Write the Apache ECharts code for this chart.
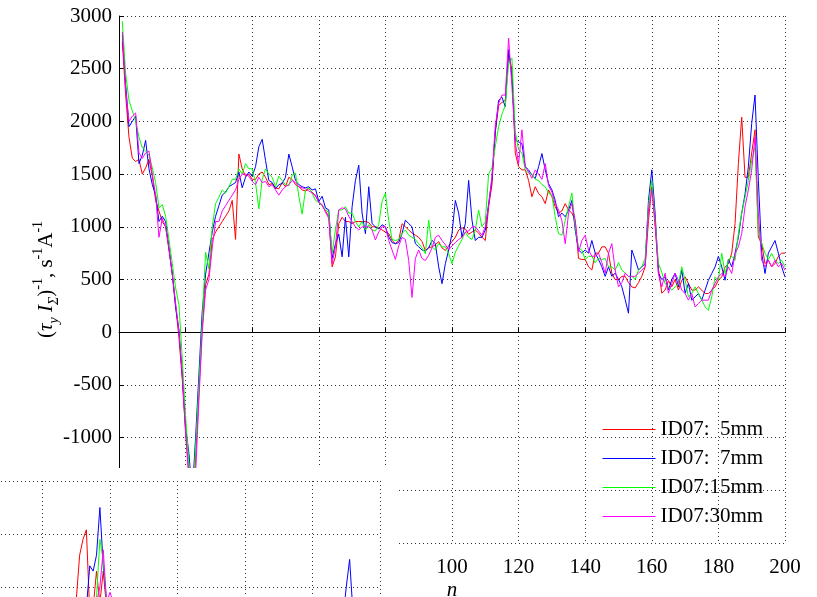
<!DOCTYPE html>
<html>
<head>
<meta charset="utf-8">
<title>ID07 response vs n</title>
<script src="https://cdn.jsdelivr.net/npm/echarts@6/dist/echarts.min.js"></script>
<style>
  html, body { margin: 0; padding: 0; background: #fff; }
  #chart { width: 817px; height: 597px; }
</style>
</head>
<body>
<div id="chart"></div>
<script>
// Sample index n = 1..200
const nValues = Array.from({ length: 200 }, (_, i) => i + 1);

// (tau_y I_Sigma)^-1 for each probe distance
const id07_5mm = [
  2750, 2250, 1850, 1650, 1620, 1640, 1500, 1560, 1640, 1480,
  1250, 1150, 1050, 1000, 780, 560, 250, -50, -450, -950,
  -1350, -1650, -1200, -550, 50, 450, 550, 880, 950, 1000,
  1050, 1100, 1150, 1250, 880, 1690, 1550, 1480, 1500, 1450,
  1450, 1500, 1520, 1470, 1400, 1410, 1370, 1360, 1420, 1380,
  1470, 1450, 1400, 1380, 1350, 1340, 1360, 1330, 1290, 1240,
  1200, 1150, 1100, 620, 715, 1030, 1090, 1050, 1050, 1030,
  1050, 1050, 1050, 1050, 1040, 1000, 1000, 990, 970, 950,
  936, 870, 840, 870, 1030, 1000, 970, 940, 920, 900,
  860, 775, 800, 810, 830, 860, 800, 775, 820, 860,
  900, 970, 990, 980, 930, 950, 970, 940, 900, 870,
  1190, 1400, 1900, 2150, 2180, 2200, 2650, 2490, 1700, 1570,
  1540, 1540, 1440, 1285, 1380, 1315, 1285, 1220, 1350, 1285,
  1190, 1130, 1150, 1220, 1160, 1130, 1060, 700, 690, 690,
  620, 590, 750, 750, 810, 810, 750, 560, 500, 500,
  530, 530, 470, 430, 420, 470, 530, 620, 1060, 1380,
  1000, 600, 370, 400, 490, 430, 500, 400, 493, 525,
  462, 400, 400, 430, 399, 367, 367, 399, 430, 493,
  525, 620, 650, 750, 1030, 1600, 2040, 1470, 1470, 1700,
  1920, 900, 842, 650, 683, 620, 652, 720, 750, 750
];
const id07_7mm = [
  2820, 2350, 1950, 2000, 2050, 1600, 1680, 1820, 1550, 1400,
  1300, 1050, 1100, 1050, 800, 550, 240, 20, -400, -900,
  -1150, -1550, -1000, -400, 200, 550, 750, 950, 1100, 1200,
  1300, 1330, 1380, 1400, 1420, 1520, 1370, 1470, 1520, 1480,
  1570, 1760, 1830, 1630, 1440, 1420, 1360, 1400, 1410, 1470,
  1690, 1570, 1440, 1400, 1380, 1370, 1380, 1350, 1360, 1240,
  1290, 1180, 1160, 700, 840, 930, 715, 1090, 715, 1190,
  1440, 1585, 1130, 935, 1380, 1030, 1000, 980, 1020, 1000,
  905, 850, 840, 850, 936, 1063, 1030, 1000, 840, 810,
  780, 770, 800, 870, 840, 620, 460, 650, 780, 936,
  1250, 1130, 900, 1030, 1440, 1063, 870, 900, 900, 970,
  1220, 1450, 1900, 2200, 2230, 2140, 2680, 2420, 1820, 1806,
  1790, 1570, 1540, 1490, 1460, 1570, 1695, 1540, 1410, 1350,
  1250, 1095, 1130, 1095, 1160, 1250, 970, 780, 750, 780,
  750, 870, 750, 690, 620, 530, 620, 530, 560, 500,
  430, 310, 180, 780, 690, 590, 620, 650, 1250, 1540,
  1127, 560, 500, 525, 400, 500, 560, 430, 590, 370,
  462, 304, 335, 367, 304, 399, 493, 557, 620, 720,
  620, 493, 690, 620, 750, 900, 1130, 1310, 1570, 1980,
  2250, 1440, 750, 557, 750, 810, 870, 750, 620, 525
];
const id07_15mm = [
  2950, 2450, 2200, 2100, 2000, 1850, 1750, 1720, 1680, 1560,
  1420, 1180, 1210, 1100, 880, 650, 420, 260, -250, -800,
  -1250, -1650, -1100, -500, 100, 760, 600, 1000, 1220, 1280,
  1350, 1320, 1380, 1450, 1450, 1550, 1500, 1600, 1550, 1550,
  1420, 1170, 1450, 1550, 1500, 1470, 1380, 1480, 1440, 1400,
  1390, 1490, 1510, 1290, 1120, 1350, 1370, 1320, 1250, 1230,
  1200, 1170, 1130, 750, 970, 1160, 1160, 1190, 1130, 1130,
  1050, 1000, 1050, 970, 1020, 970, 960, 1020, 1240, 1320,
  1060, 880, 870, 880, 936, 970, 920, 900, 880, 840,
  800, 745, 1063, 810, 780, 840, 810, 810, 745, 650,
  760, 820, 880, 950, 900, 880, 970, 1160, 1000, 1050,
  1500, 1560, 1760, 1950, 2070, 2150, 2550, 2600, 1900, 1730,
  1700, 1540, 1510, 1500, 1450, 1440, 1400, 1380, 1320, 1300,
  1095, 935, 920, 1060, 1190, 1320, 1000, 800, 780, 690,
  720, 720, 660, 700, 690, 700, 620, 620, 590, 660,
  590, 560, 530, 530, 500, 590, 620, 700, 1200, 1440,
  1060, 650, 570, 460, 430, 400, 430, 462, 620, 493,
  335, 367, 430, 367, 304, 240, 209, 335, 525, 493,
  750, 557, 683, 720, 683, 936, 1130, 1280, 1440, 1630,
  1760, 936, 842, 750, 690, 747, 683, 652, 683, 620
];
const id07_30mm = [
  2850, 2300, 2000, 2050, 2080, 1700, 1650, 1700, 1720, 1500,
  1300, 900, 1080, 1000, 800, 550, 280, 0, -400, -950,
  -1400, -1700, -1350, -650, 0, 400, 500, 800, 1050, 1050,
  1150, 1200, 1250, 1300, 1350, 1450, 1500, 1500, 1480, 1430,
  1400, 1470, 1420, 1430, 1380, 1400, 1350, 1300, 1350, 1380,
  1400, 1440, 1420, 1380, 1370, 1360, 1340, 1320, 1300, 1230,
  1210, 1140, 1080, 650, 810, 1160, 1180, 1170, 1100, 1050,
  1000, 970, 1000, 1000, 1000, 970, 875, 950, 1000, 1000,
  870, 780, 690, 820, 900, 880, 680, 330, 700, 780,
  700, 680, 730, 800, 900, 920, 870, 830, 780, 820,
  850, 880, 900, 950, 960, 1000, 1000, 960, 920, 1000,
  1200, 1480, 1960, 2170, 2250, 2250, 2790, 2330, 1800, 1600,
  1920, 1570, 1520, 1460, 1540, 1500, 1450, 1600, 1390, 1330,
  1220, 1160, 1060, 840, 1130, 1220, 1060, 760, 870, 920,
  780, 720, 720, 750, 660, 560, 750, 840, 590, 430,
  470, 560, 530, 530, 530, 560, 590, 620, 1150, 1350,
  1060, 550, 430, 560, 370, 462, 560, 493, 400, 367,
  304, 367, 240, 272, 304, 304, 304, 399, 462, 525,
  557, 525, 620, 557, 747, 810, 936, 1190, 1350, 1540,
  1850, 1130, 683, 620, 683, 620, 683, 620, 652, 588
];

// Second panel (upper band only, lower-left corner)
const panelN = [
  106, 107, 108, 109, 110, 111, 112, 113, 114, 115, 116, 117, 118, 119, 120, 121, 122,
  186, 187, 188, 189, 190, 191, 192, 193, 194
];
const panel_5mm = [
  1450, 1550, 1650, 1750, 1880, 2300, 2450, 2540, 1750, 1800, 2150, 1850, 2150, 1800, 1700, 1600, 1500,
  1600, 1850, 1700, 1750, 1800, 1700, 1100, 900, 700
];
const panel_7mm = [
  1400, 1450, 1500, 1550, 1600, 1700, 1750, 1800, 2200, 2150, 2300, 2750, 2200, 1850, 1750, 1650, 1500,
  1000, 1200, 1400, 1700, 2000, 2260, 1750, 900, 700
];
const panel_15mm = [
  1400, 1450, 1500, 1550, 1600, 1650, 1700, 1750, 1800, 1850, 1900, 2450, 2250, 1850, 1750, 1650, 1500,
  1000, 1200, 1400, 1500, 1650, 1800, 1100, 900, 700
];
const panel_30mm = [
  1400, 1450, 1500, 1550, 1600, 1650, 1700, 1750, 1800, 1820, 1850, 2000, 2350, 1850, 1950, 1850, 1500,
  900, 1000, 1200, 1400, 1550, 1850, 1200, 800, 700
];

const seriesNames = ['ID07:  5mm', 'ID07:  7mm', 'ID07:15mm', 'ID07:30mm'];
const seriesColors = ['#ff0000', '#0000ff', '#00ff00', '#ff00ff'];
const mainData = [id07_5mm, id07_7mm, id07_15mm, id07_30mm];
const panelData = [panel_5mm, panel_7mm, panel_15mm, panel_30mm];

const yTicks = { min: -2000, max: 3000, interval: 500 };
const xTicks = { min: 0, max: 200, interval: 20 };

const serif = 'Liberation Serif, Times New Roman, serif';
const gridDots = { color: '#333', width: 1, type: [1, 3] };
const plain = v => String(v);

const pair = (xs, ys) => xs.map((x, i) => [x, ys[i]]);

const chart = echarts.init(document.getElementById('chart'), null, { renderer: 'canvas' });

const option = {
  animation: false,
  backgroundColor: '#fff',
  color: seriesColors,
  grid: [
    { left: 119, top: 16, width: 666, height: 527, containLabel: false, outerBoundsMode: 'none' },
    { left: -295, top: 481, width: 675, height: 530, containLabel: false, outerBoundsMode: 'none' }
  ],
  xAxis: [
    {
      gridIndex: 0, type: 'value', min: xTicks.min, max: xTicks.max, interval: xTicks.interval,
      name: 'n', nameLocation: 'middle', nameGap: 37, nameMoveOverlap: false,
      nameTextStyle: { fontFamily: serif, fontStyle: 'italic', fontSize: 21, color: '#000' },
      axisLine: { show: true, lineStyle: { color: '#000', width: 1 } },
      axisTick: { show: true, inside: true, length: 5, lineStyle: { color: '#000' } },
      axisLabel: { fontFamily: serif, fontSize: 21, color: '#000', margin: 14, formatter: plain },
      splitLine: { show: true, lineStyle: gridDots }
    },
    {
      gridIndex: 1, type: 'value', min: xTicks.min, max: xTicks.max, interval: xTicks.interval, z: 60,
      axisLine: { show: false }, axisTick: { show: false }, axisLabel: { show: false },
      splitLine: { show: true, lineStyle: gridDots }
    }
  ],
  yAxis: [
    {
      gridIndex: 0, type: 'value', min: yTicks.min, max: yTicks.max, interval: yTicks.interval,
      name: '{n|(}{i|τ}{sub|y}{n| }{i|I}{sub|Σ}{n|)}{sup|-1}{n|, s}{sup|-1}{n|A}{sup|-1}',
      nameLocation: 'middle', nameGap: 58, nameRotate: 90, nameMoveOverlap: false,
      nameTextStyle: {
        color: '#000',
        rich: {
          n: { fontFamily: serif, fontSize: 21, lineHeight: 30, verticalAlign: 'middle', color: '#000' },
          i: { fontFamily: serif, fontSize: 21, fontStyle: 'italic', lineHeight: 30, verticalAlign: 'middle', color: '#000' },
          sub: { fontFamily: serif, fontSize: 14, fontStyle: 'italic', lineHeight: 12, verticalAlign: 'bottom', color: '#000' },
          sup: { fontFamily: serif, fontSize: 14, lineHeight: 14, verticalAlign: 'top', color: '#000' }
        }
      },
      axisLine: { show: true, lineStyle: { color: '#000', width: 1 } },
      axisTick: { show: true, inside: true, length: 5, lineStyle: { color: '#000' } },
      axisLabel: { fontFamily: serif, fontSize: 21, color: '#000', margin: 7, formatter: plain },
      splitLine: { show: true, lineStyle: gridDots }
    },
    {
      gridIndex: 1, type: 'value', min: yTicks.min, max: yTicks.max, interval: yTicks.interval, z: 60,
      axisLine: { show: false }, axisTick: { show: false }, axisLabel: { show: false },
      splitLine: { show: true, lineStyle: gridDots }
    }
  ],
  legend: {
    orient: 'vertical',
    left: 597, top: 414,
    itemWidth: 53, itemHeight: 14, itemGap: 8,
    itemStyle: { opacity: 0 },
    textStyle: { fontFamily: serif, fontSize: 21, color: '#000', lineHeight: 21 },
    data: seriesNames.map((name, k) => ({
      name,
      lineStyle: { color: seriesColors[k], width: 1, opacity: 1 }
    }))
  },
  graphic: [
    {
      type: 'rect', z: 50,
      shape: { x: 0, y: 468, width: 397, height: 129 },
      style: { fill: '#fff' }
    }
  ],
  series: [
    ...seriesNames.map((name, k) => ({
      name, type: 'line', xAxisIndex: 0, yAxisIndex: 0,
      data: pair(nValues, mainData[k]),
      color: seriesColors[k],
      showSymbol: false, symbol: 'none',
      lineStyle: { color: seriesColors[k], width: 1 },
      itemStyle: { color: seriesColors[k] },
      z: 2 + k
    })),
    ...seriesNames.map((name, k) => ({
      name: name + ' ', type: 'line', xAxisIndex: 1, yAxisIndex: 1,
      data: pair(panelN, panelData[k]),
      color: seriesColors[k],
      showSymbol: false, symbol: 'none',
      lineStyle: { color: seriesColors[k], width: 1 },
      itemStyle: { color: seriesColors[k] },
      z: 70 + k
    }))
  ]
};

chart.setOption(option);
</script>
</body>
</html>
